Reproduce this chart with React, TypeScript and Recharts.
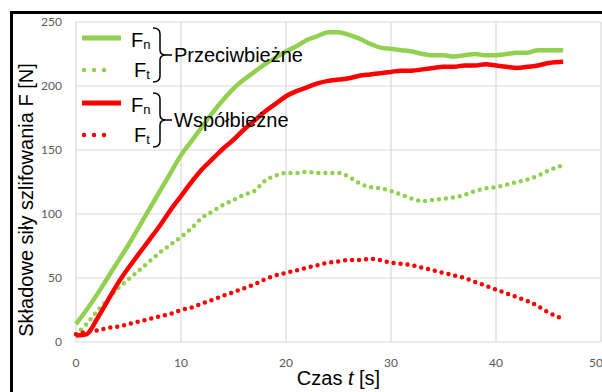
import React from "react";
import { CartesianGrid, Legend, Line, LineChart, XAxis, YAxis } from "recharts";

// czas [s]
const time = [
  0, 1, 2, 3, 4, 5, 6, 7, 8, 9, 10, 11, 12, 13, 14, 15, 16, 17, 18, 19, 20, 21, 22, 23,
  24, 25, 26, 27, 28, 29, 30, 31, 32, 33, 34, 35, 36, 37, 38, 39, 40, 41, 42, 43, 44, 45, 46.4,
];
// przeciwbieżne Fn / Ft [N]
const fnPrzeciw = [
  14, 25, 37, 50, 63, 76, 90, 104, 118, 132, 146, 157, 168, 179, 189, 198, 205, 211, 217, 222,
  227, 231, 236, 239, 242, 242, 240, 237, 233, 230, 229, 228, 227, 225, 224, 224, 223, 224, 225,
  224, 224, 225, 226, 226, 228, 228, 228,
];
const ftPrzeciw = [
  6, 14, 24, 33, 42, 49, 56, 63, 70, 76, 82, 89, 97, 102, 107, 111, 115, 118, 126, 130, 132, 132,
  133, 132, 132, 132, 129, 124, 121, 120, 118, 115, 112, 110, 111, 112, 113, 115, 118, 120, 121,
  123, 125, 127, 130, 134, 138,
];
// współbieżne Fn / Ft [N]
const fnWspol = [
  5, 6, 18, 32, 46, 58, 69, 80, 91, 103, 114, 125, 135, 143, 151, 158, 166, 173, 180, 186, 192,
  196, 199, 202, 204, 205, 206, 208, 209, 210, 211, 212, 212, 213, 214, 215, 215, 216, 216, 217,
  216, 215, 214, 215, 216, 218, 219,
];
const ftWspol = [
  6, 8, 9, 11, 12, 14, 16, 18, 20, 22, 25, 27, 30, 33, 36, 39, 42, 45, 49, 52, 54, 56, 58, 60, 62,
  63, 64, 64, 65, 64, 62, 61, 60, 58, 56, 54, 52, 50, 47, 44, 41, 38, 35, 32, 28, 23, 18,
];

const xTicks = [0, 10, 20, 30, 40, 50];
const yTicks = [0, 50, 100, 150, 200, 250];

const GREEN = "#92d050";
const RED = "#ff0000";
const FONT = "'Liberation Sans', Arial, sans-serif";

const data = time.map((t, i) => ({
  t,
  fnP: fnPrzeciw[i],
  ftP: ftPrzeciw[i],
  fnW: fnWspol[i],
  ftW: ftWspol[i],
}));

const groups = [
  { name: "Przeciwbieżne", color: GREEN, top: 28 },
  { name: "Współbieżne", color: RED, top: 93 },
];

const LegendBox = () => (
  <svg width={602} height={392} style={{ display: "block" }}>
    {groups.map((g) => {
      const mid = g.top + 27;
      const bot = g.top + 54;
      return (
        <g key={g.name} fontFamily={FONT} fill="#000">
          <line x1={82} x2={121} y1={g.top + 10} y2={g.top + 10} stroke={g.color} strokeWidth={5} />
          <text x={131} y={g.top + 19} fontSize={20}>
            F<tspan fontSize={13} dy={2}>n</tspan>
          </text>
          <line
            x1={84}
            x2={114}
            y1={g.top + 42}
            y2={g.top + 42}
            stroke={g.color}
            strokeWidth={4.5}
            strokeDasharray="0 10"
            strokeLinecap="round"
          />
          <text x={134} y={g.top + 49} fontSize={20}>
            F<tspan fontSize={13} dy={2}>t</tspan>
          </text>
          <path
            d={`M153 ${g.top} Q160 ${g.top} 160 ${g.top + 6} L160 ${mid - 5} Q160 ${mid} 166 ${mid} Q160 ${mid} 160 ${mid + 5} L160 ${bot - 6} Q160 ${bot} 153 ${bot} M166 ${mid} L172 ${mid}`}
            fill="none"
            stroke="#000"
            strokeWidth={1.5}
          />
          <text x={174} y={mid + 7} fontSize={20}>
            {g.name}
          </text>
        </g>
      );
    })}
  </svg>
);

const App = () => {
  return (
    <div
      style={{
        position: "absolute",
        left: 0,
        top: 0,
        width: 602,
        height: 392,
        overflow: "hidden",
        background: "#fff",
      }}
    >
      <div
        style={{
          position: "absolute",
          left: 10,
          top: 11,
          width: 700,
          height: 500,
          borderTop: "3px solid #000",
          borderLeft: "3px solid #000",
        }}
      />
      <div style={{ position: "absolute", left: 0, top: 0 }}>
        <LineChart width={602} height={392} data={data} margin={{ top: 22, right: 1, left: 0, bottom: 0 }}>
          <CartesianGrid stroke="#d9d9d9" strokeWidth={1.2} />
          <XAxis
            dataKey="t"
            type="number"
            domain={[0, 50]}
            ticks={xTicks}
            axisLine={false}
            tickLine={false}
            tickSize={0}
            tickMargin={16}
            height={50}
            tick={{ fill: "#595959", fontSize: 12, fontFamily: "Lato" }}
            label={{
              content: (p: any) => {
                const vb = p.viewBox;
                return (
                  <text x={vb.x + vb.width / 2} y={vb.y + 43} textAnchor="middle" fontSize={20} fontFamily={FONT} fill="#000">
                    Czas <tspan fontStyle="italic">t</tspan> [s]
                  </text>
                );
              },
            }}
          />
          <YAxis
            type="number"
            domain={[0, 250]}
            ticks={yTicks}
            axisLine={false}
            tickLine={false}
            tickSize={0}
            tickMargin={14}
            width={76}
            tick={{ fill: "#595959", fontSize: 12, fontFamily: "Lato" }}
            label={{
              content: (p: any) => {
                const vb = p.viewBox;
                const cx = 33;
                const cy = vb.y + vb.height / 2 + 18;
                return (
                  <text
                    x={cx}
                    y={cy}
                    transform={`rotate(-90 ${cx} ${cy})`}
                    textAnchor="middle"
                    fontSize={20}
                    fontFamily={FONT}
                    fill="#000"
                  >
                    Składowe siły szlifowania F [N]
                  </text>
                );
              },
            }}
          />
          <Legend
            layout="vertical"
            align="center"
            verticalAlign="middle"
            wrapperStyle={{ left: 0, top: 0, width: 602, height: 392 }}
            content={() => <LegendBox />}
          />
          <Line dataKey="fnP" type="monotone" stroke={GREEN} strokeWidth={4.5} dot={false} activeDot={false} isAnimationActive={false} />
          <Line
            dataKey="ftP"
            type="monotone"
            stroke={GREEN}
            strokeWidth={4.5}
            strokeDasharray="0 7"
            strokeLinecap="round"
            dot={false}
            activeDot={false}
            isAnimationActive={false}
          />
          <Line dataKey="fnW" type="monotone" stroke={RED} strokeWidth={4.5} dot={false} activeDot={false} isAnimationActive={false} />
          <Line
            dataKey="ftW"
            type="monotone"
            stroke={RED}
            strokeWidth={4.5}
            strokeDasharray="0 7"
            strokeLinecap="round"
            dot={false}
            activeDot={false}
            isAnimationActive={false}
          />
        </LineChart>
      </div>
    </div>
  );
};

export default App;
